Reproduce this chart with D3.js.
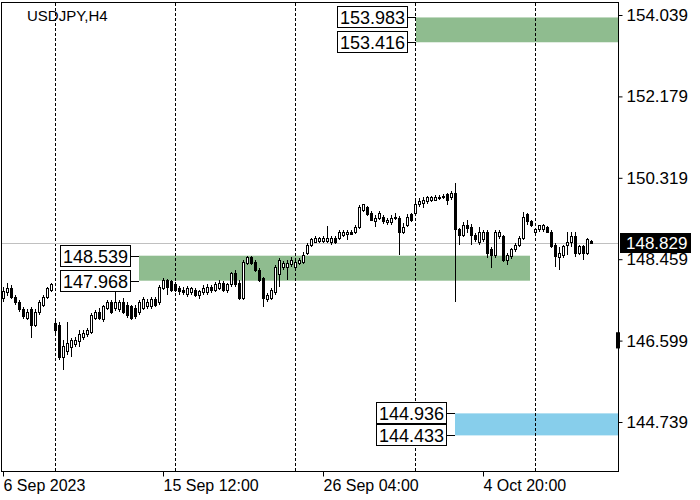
<!DOCTYPE html>
<html><head><meta charset="utf-8">
<script src="https://cdn.jsdelivr.net/npm/d3@7/dist/d3.min.js"></script>
<style>body{margin:0;background:#fff}svg{display:block}</style>
</head><body><svg id="c" width="700" height="500"></svg>
<script>
const symbolTitle = "USDJPY,H4";
const opens = [147.57,147.69,147.80,147.59,147.48,147.30,147.11,147.30,146.95,147.23,147.41,147.59,147.75,147.00,146.95,146.22,146.34,146.45,146.50,146.57,146.66,146.73,146.79,147.11,147.25,147.07,147.34,147.46,147.34,147.30,147.48,147.41,147.37,147.34,147.23,147.34,147.37,147.37,147.53,147.46,147.80,147.98,147.94,147.87,147.78,147.75,147.66,147.69,147.75,147.62,147.69,147.69,147.82,147.75,147.80,147.91,147.75,147.87,148.14,147.91,147.57,148.37,148.49,148.39,148.21,148.01,147.53,147.57,147.69,148.10,148.26,148.28,148.33,148.26,148.37,148.39,148.60,148.78,148.85,148.87,148.87,148.87,148.83,148.94,148.94,149.01,149.03,149.08,149.08,149.19,149.58,149.65,149.51,149.31,149.40,149.42,149.29,149.29,149.40,149.40,149.08,149.24,149.47,149.51,149.70,149.74,149.77,149.81,149.81,149.86,149.86,149.93,149.86,149.97,149.13,149.01,149.24,149.19,149.01,148.85,148.90,149.08,148.67,148.55,148.97,148.97,148.44,148.51,148.67,148.78,148.94,149.47,149.31,149.08,149.13,149.13,149.19,149.08,148.78,148.49,148.55,148.78,148.85,148.97,148.60,148.74,148.60,148.87];
const highs = [147.82,147.91,147.87,147.64,147.53,147.37,147.32,147.37,147.32,147.53,147.64,147.82,147.91,147.07,147.02,146.61,147.02,146.66,146.68,146.84,146.84,146.89,147.23,147.30,147.34,147.41,147.53,147.53,147.75,147.53,147.57,147.48,147.41,147.41,147.53,147.59,147.55,147.59,147.59,147.87,148.03,148.01,147.98,147.94,147.85,147.82,147.85,147.82,147.80,147.75,147.87,147.89,147.87,147.94,147.98,147.96,147.91,148.17,148.21,147.98,148.44,148.53,148.53,148.44,148.26,148.05,147.69,147.80,148.33,148.49,148.42,148.44,148.51,148.44,148.49,148.62,148.83,148.94,148.99,148.97,148.99,149.22,148.99,148.99,149.13,149.13,149.13,149.13,149.24,149.70,149.72,149.67,149.56,149.47,149.56,149.47,149.40,149.47,149.51,149.45,149.29,149.49,149.51,149.79,149.86,149.88,149.90,149.90,149.93,149.93,149.95,149.97,150.02,150.20,149.17,149.31,149.35,149.26,149.06,149.19,149.13,149.13,148.74,149.13,149.13,149.01,148.60,148.71,148.83,148.99,149.54,149.51,149.35,149.17,149.24,149.26,149.22,149.13,148.83,148.74,148.78,149.08,149.08,149.08,148.78,148.78,148.94,148.90];
const lows = [147.48,147.62,147.55,147.41,147.25,147.09,147.07,146.66,146.91,147.18,147.37,147.55,147.71,146.77,146.15,145.93,146.27,146.22,146.45,146.45,146.61,146.68,146.75,147.07,147.07,147.02,147.30,147.21,147.27,147.25,147.21,147.11,147.07,147.09,147.18,147.30,147.32,147.32,147.37,147.41,147.75,147.64,147.71,147.71,147.64,147.64,147.59,147.64,147.59,147.55,147.64,147.64,147.69,147.71,147.75,147.71,147.69,147.82,147.82,147.53,147.53,148.33,148.33,148.17,147.94,147.37,147.48,147.53,147.64,147.82,148.21,147.98,148.28,148.21,148.33,148.35,148.55,148.74,148.83,148.83,148.83,148.83,148.78,148.81,148.90,148.97,148.90,149.01,149.03,149.15,149.54,149.45,149.33,149.19,149.35,149.26,149.24,149.24,149.35,148.55,149.03,149.19,149.31,149.47,149.65,149.63,149.72,149.77,149.79,149.81,149.83,149.70,149.81,147.48,148.78,148.97,149.06,148.78,148.85,148.78,148.85,148.49,148.26,148.49,148.92,148.39,148.33,148.46,148.62,148.74,148.90,149.24,149.19,148.99,149.08,149.08,149.06,148.71,148.28,148.21,148.49,148.55,148.74,148.51,148.55,148.44,148.55,148.83];
const closes = [147.71,147.80,147.59,147.46,147.30,147.16,147.25,146.95,147.25,147.46,147.59,147.80,147.87,146.84,146.22,146.47,146.54,146.61,146.61,146.73,146.77,146.84,147.18,147.23,147.11,147.37,147.46,147.25,147.46,147.48,147.25,147.18,147.11,147.14,147.46,147.53,147.48,147.53,147.41,147.82,147.98,147.82,147.75,147.75,147.71,147.69,147.78,147.78,147.64,147.71,147.80,147.82,147.75,147.87,147.91,147.75,147.87,148.14,147.87,147.57,148.39,148.49,148.37,148.21,147.98,147.57,147.64,147.75,148.28,148.44,148.37,148.37,148.44,148.39,148.44,148.55,148.78,148.90,148.94,148.94,148.94,148.94,148.94,148.83,149.06,149.08,149.08,149.03,149.19,149.65,149.70,149.47,149.35,149.40,149.51,149.31,149.35,149.40,149.42,149.08,149.19,149.42,149.35,149.72,149.77,149.81,149.86,149.86,149.88,149.88,149.90,149.81,149.97,149.13,149.01,149.24,149.17,149.01,148.90,149.06,149.06,148.60,148.55,149.06,149.06,148.44,148.55,148.67,148.78,148.94,149.42,149.31,149.24,149.13,149.22,149.24,149.08,148.74,148.51,148.60,148.74,148.85,148.97,148.60,148.74,148.60,148.90,148.829];
const priceTicks = [154.039, 152.179, 150.319, 148.459, 146.599, 144.739];
const dateTickIndex = [0, 40, 80, 120];
const dateTickLabels = ["6 Sep 2023", "15 Sep 12:00", "26 Sep 04:00", "4 Oct 20:00"];
const separatorIndex = [13, 43, 73, 103, 133];
const zoneTop = [153.983, 148.539, 144.936];
const zoneBottom = [153.416, 147.968, 144.433];
const zoneStart = [103.25, 34, 113];
const zoneEnd = [153.9, 131.75, 153.9];
const zoneKind = ["supply", "demand", "target"];
const lastPrice = 148.829;
const axisMarkLow = 146.42, axisMarkHigh = 146.79;

const zoneFill = {supply: "#8fbc8f", demand: "#8fbc8f", target: "#87ceeb"};
const FONT = "Liberation Sans, Arial, sans-serif";
const svg = d3.select("#c");
const L = 1.5, T = 2.5, R = 618.5, B = 471.5;
const N = closes.length;
const x = d3.scaleLinear().domain([0, N - 1]).range([3, 3 + 4 * (N - 1)]);
const y = d3.scaleLinear().domain([144.739, 154.039]).range([422, 15]);

const plot = svg.append("g");
zoneTop.forEach((t, k) => {
  plot.append("rect").attr("x", x(zoneStart[k])).attr("y", y(t))
    .attr("width", Math.min(x(zoneEnd[k]), R) - x(zoneStart[k]))
    .attr("height", y(zoneBottom[k]) - y(t)).attr("fill", zoneFill[zoneKind[k]]);
});
plot.selectAll("line.sep").data(separatorIndex).join("line")
  .attr("x1", d => x(d) + 0.5).attr("x2", d => x(d) + 0.5).attr("y1", T).attr("y2", B)
  .attr("stroke", "#000").attr("stroke-dasharray", "3,2").attr("shape-rendering", "crispEdges");
plot.append("line").attr("x1", L).attr("x2", R).attr("y1", Math.round(y(lastPrice)) + 0.5).attr("y2", Math.round(y(lastPrice)) + 0.5)
  .attr("stroke", "#c0c0c0").attr("shape-rendering", "crispEdges");
const idx = d3.range(N);
const cg = plot.append("g").attr("shape-rendering", "crispEdges");
cg.selectAll("line.w").data(idx).join("line")
  .attr("x1", i => x(i) + 0.5).attr("x2", i => x(i) + 0.5)
  .attr("y1", i => y(highs[i])).attr("y2", i => y(lows[i])).attr("stroke", "#000");
cg.selectAll("rect.b").data(idx).join("rect")
  .attr("x", i => x(i) - 0.5)
  .attr("y", i => y(Math.max(opens[i], closes[i])))
  .attr("width", 2)
  .attr("height", i => Math.max(1, Math.abs(y(opens[i]) - y(closes[i]))))
  .attr("fill", i => closes[i] >= opens[i] ? "#fff" : "#000")
  .attr("stroke", "#000");

zoneTop.forEach((t, k) => {
  const x0 = x(zoneStart[k]);
  [t, zoneBottom[k]].forEach(v => {
    const yy = y(v);
    const bx = x0 - 9 - 70;
    svg.append("line").attr("x1", bx + 70).attr("x2", x0).attr("y1", Math.round(yy) + 0.5).attr("y2", Math.round(yy) + 0.5)
      .attr("stroke", "#000").attr("shape-rendering", "crispEdges");
    svg.append("rect").attr("x", bx + 0.5).attr("y", Math.round(yy) - 10.5).attr("width", 70).attr("height", 21)
      .attr("fill", "#fff").attr("stroke", "#000").attr("shape-rendering", "crispEdges");
    svg.append("text").attr("x", bx + 35.5).attr("y", Math.round(yy) + 6.5).attr("text-anchor", "middle")
      .attr("font-family", FONT).attr("font-size", 18).text(v.toFixed(3));
  });
});

svg.append("rect").attr("x", L).attr("y", T).attr("width", R - L).attr("height", B - T)
  .attr("fill", "none").attr("stroke", "#000").attr("shape-rendering", "crispEdges");

const yAxis = d3.axisRight(y).tickValues(priceTicks).tickFormat(d3.format(".3f")).tickSize(4).tickPadding(4);
const ya = svg.append("g").attr("transform", `translate(${R},0)`).call(yAxis);
ya.select(".domain").remove();
ya.selectAll("text").attr("font-family", FONT).attr("font-size", 17).attr("fill", "#000");
ya.selectAll("line").attr("stroke", "#000");

const xAxis = d3.axisBottom(x).tickValues(dateTickIndex).tickFormat((d, i) => dateTickLabels[i]).tickSize(5).tickPadding(3);
const xa = svg.append("g").attr("transform", `translate(0,${B})`).call(xAxis);
xa.select(".domain").remove();
xa.selectAll("text").attr("font-family", FONT).attr("font-size", 16).attr("fill", "#000").attr("text-anchor", "start");
xa.selectAll("line").attr("stroke", "#000");

svg.append("rect").attr("x", R - 2.5).attr("y", y(axisMarkHigh)).attr("width", 4)
  .attr("height", y(axisMarkLow) - y(axisMarkHigh)).attr("fill", "#000");

const ly = y(lastPrice);
svg.append("rect").attr("x", 620).attr("y", ly - 10).attr("width", 71).attr("height", 20).attr("fill", "#000");
svg.append("text").attr("x", 626).attr("y", ly + 6).attr("font-family", FONT).attr("font-size", 17).attr("fill", "#fff").text(lastPrice.toFixed(3));

svg.append("text").attr("x", 27).attr("y", 21).attr("font-family", FONT).attr("font-size", 15).attr("fill", "#000").text(symbolTitle);
</script></body></html>
